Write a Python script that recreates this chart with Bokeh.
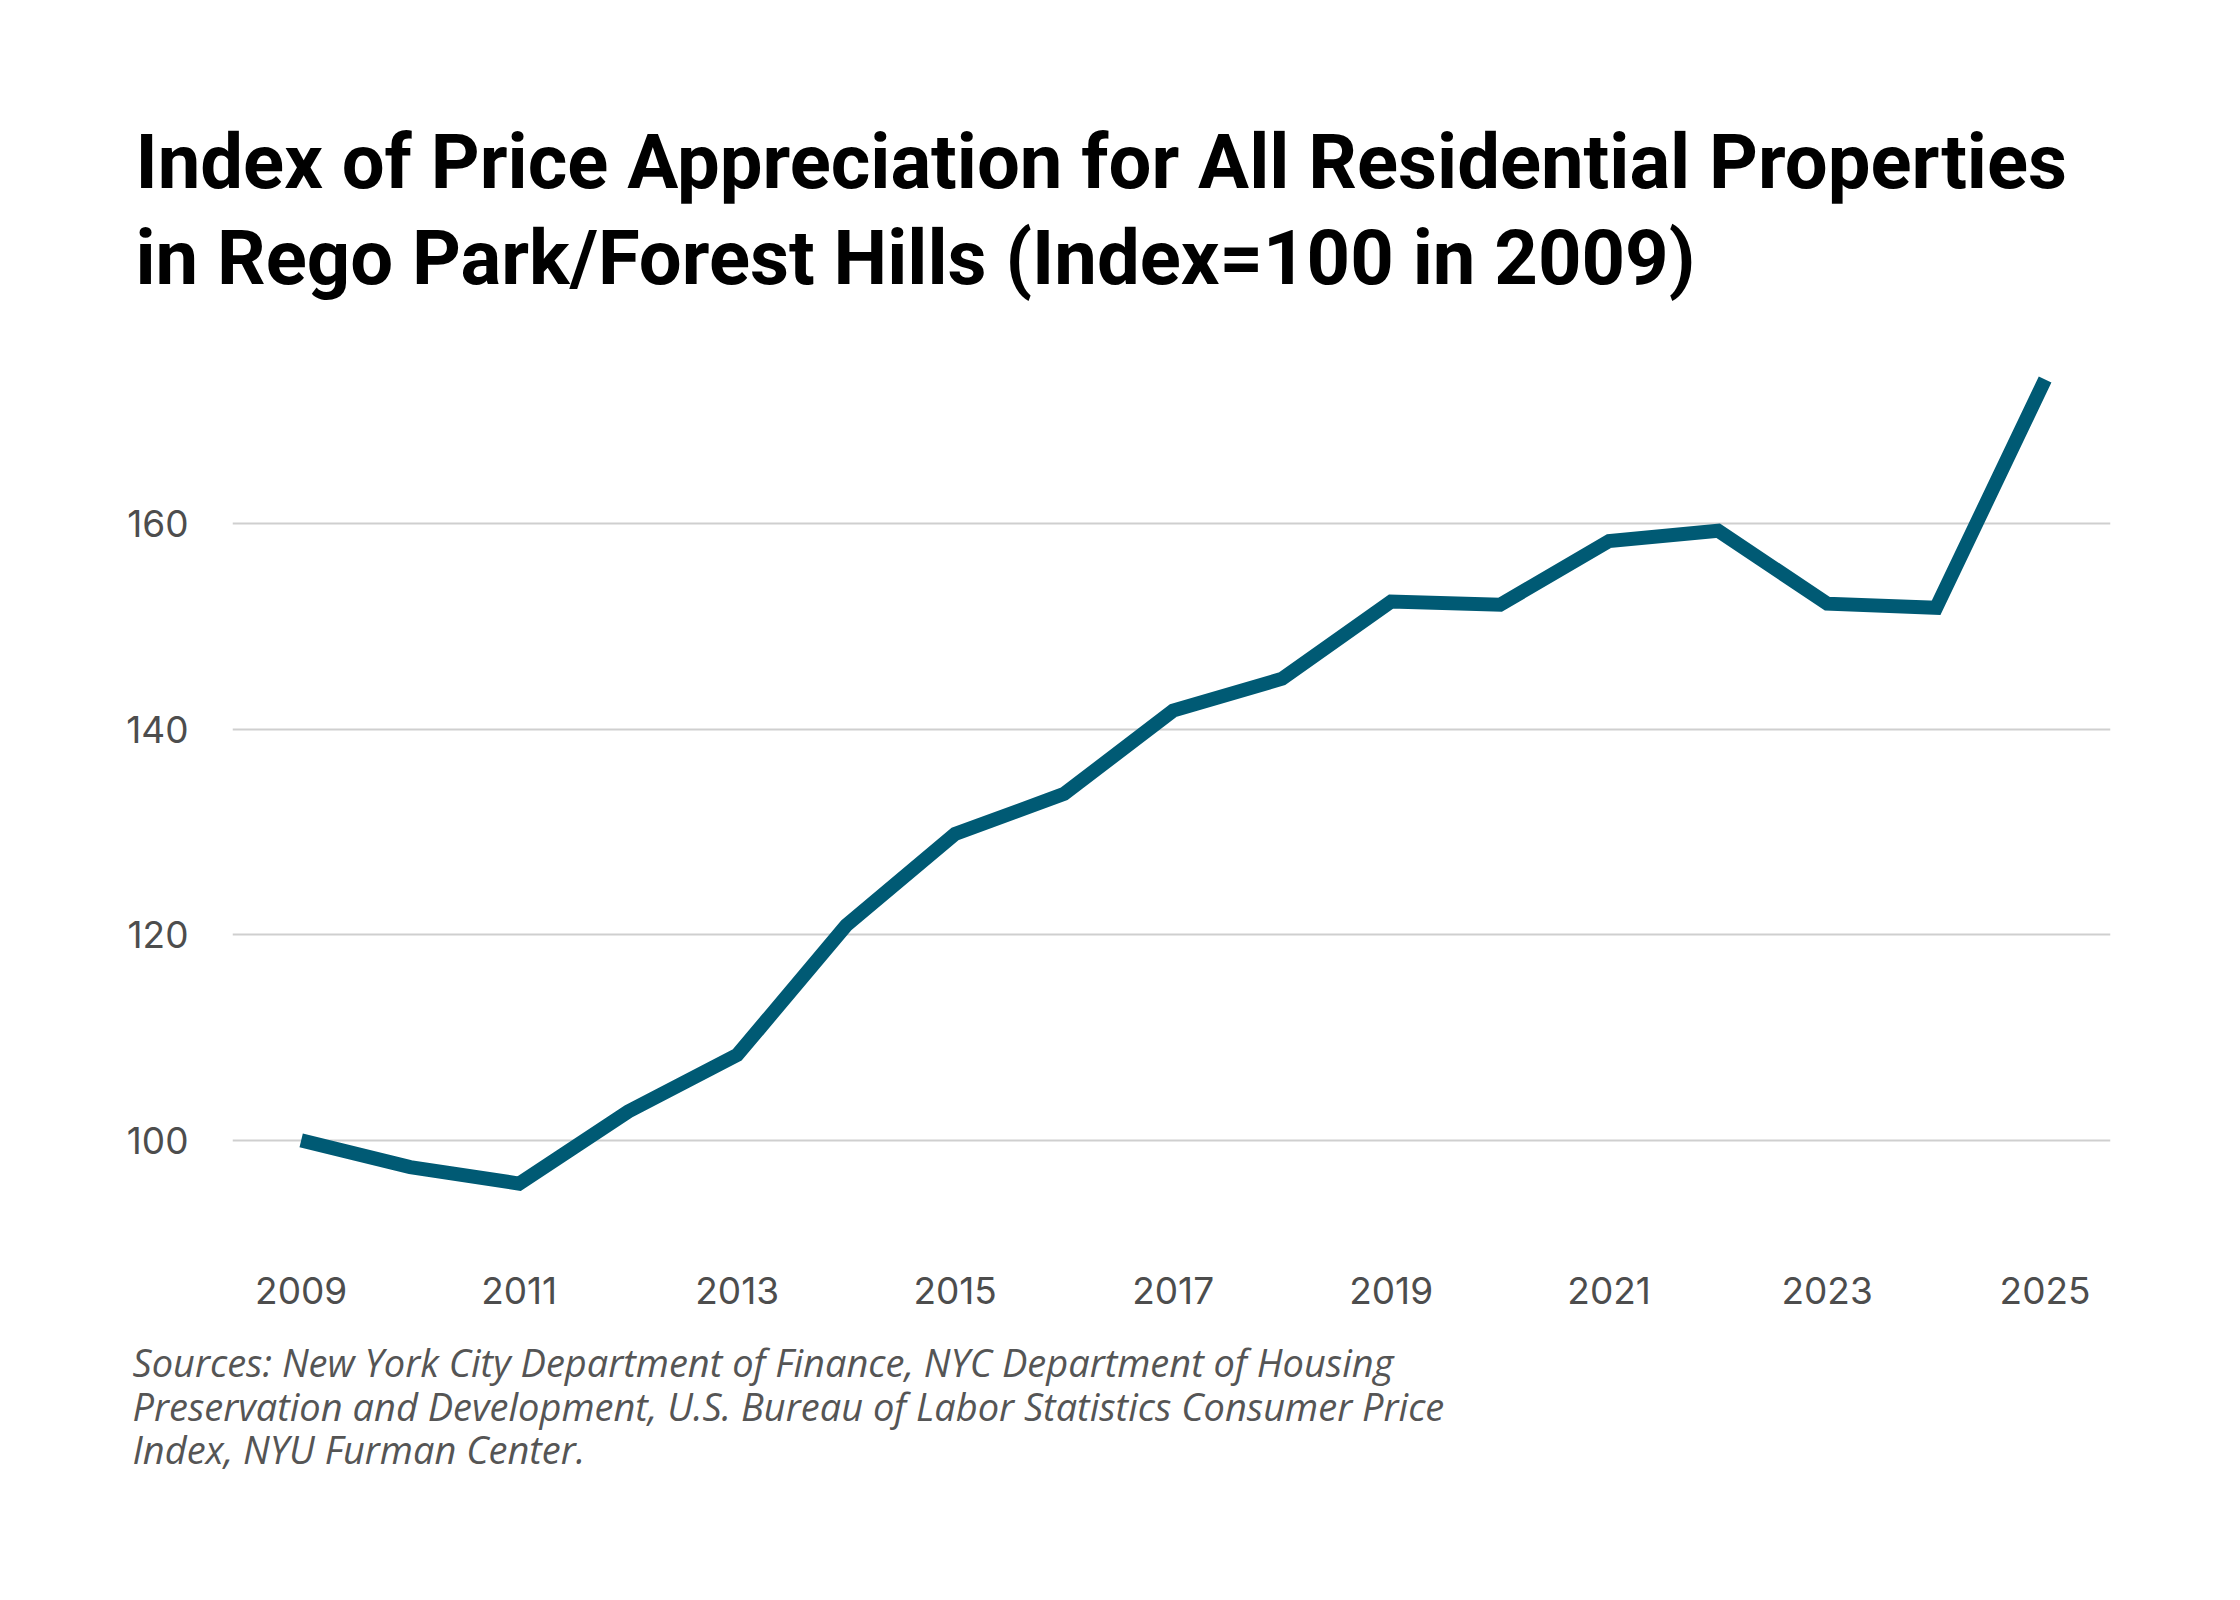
from bokeh.plotting import figure
from bokeh.models import Title, FixedTicker, Range1d
from bokeh.embed import file_html
from bokeh.resources import INLINE

# data
years = list(range(2009, 2026))
index_values = [100.0, 97.4, 95.8, 102.8, 108.3, 120.9, 129.8, 133.7, 141.8,
                144.9, 152.4, 152.1, 158.3, 159.3, 152.2, 151.8, 174.0]
x_ticks = [2009, 2011, 2013, 2015, 2017, 2019, 2021, 2023, 2025]
y_ticks = [100, 120, 140, 160]

title_lines = [
    "Index of Price Appreciation for All Residential Properties",
    "in Rego Park/Forest Hills (Index=100 in 2009)",
]
source_lines = [
    "Sources: New York City Department of Finance, NYC Department of Housing",
    "Preservation and Development, U.S. Bureau of Labor Statistics Consumer Price",
    "Index, NYU Furman Center.",
]

LINE_COLOR = "#005a74"
TEXT_GRAY = "#4d4d4d"

p = figure(width=2224, height=1584, output_backend="svg", toolbar_location=None,
           x_range=Range1d(2008.37, 2025.6), y_range=Range1d(88.9, 177.7),
           min_border_left=232, min_border_right=114,
           min_border_top=341, min_border_bottom=330)

p.line(years, index_values, line_color=LINE_COLOR, line_width=14, line_join="miter")

p.add_layout(Title(text="\n".join(title_lines), text_font="Roboto",
                   text_font_size="76px", text_font_style="bold", text_color="black",
                   text_line_height=1.07, align="left", offset=-97, standoff=76), "above")

p.add_layout(Title(text="\n".join(source_lines), text_font="Open Sans",
                   text_font_size="38px", text_font_style="italic", text_color="#555555",
                   text_line_height=0.84, align="left", offset=-100, standoff=56), "below")

p.xaxis.ticker = FixedTicker(ticks=x_ticks)
p.yaxis.ticker = FixedTicker(ticks=y_ticks)
p.axis.axis_line_color = None
p.axis.major_tick_line_color = None
p.axis.minor_tick_line_color = None
p.axis.major_label_text_font = "Inter"
p.axis.major_label_text_font_size = "37px"
p.axis.major_label_text_color = TEXT_GRAY
p.xaxis.major_label_standoff = 16
p.yaxis.major_label_standoff = 38

p.xgrid.grid_line_color = None
p.ygrid.grid_line_color = "#cfcfcf"
p.ygrid.grid_line_width = 2
p.outline_line_color = None
p.background_fill_color = "white"
p.border_fill_color = "white"

open("out.html", "w").write(file_html(p, INLINE))
